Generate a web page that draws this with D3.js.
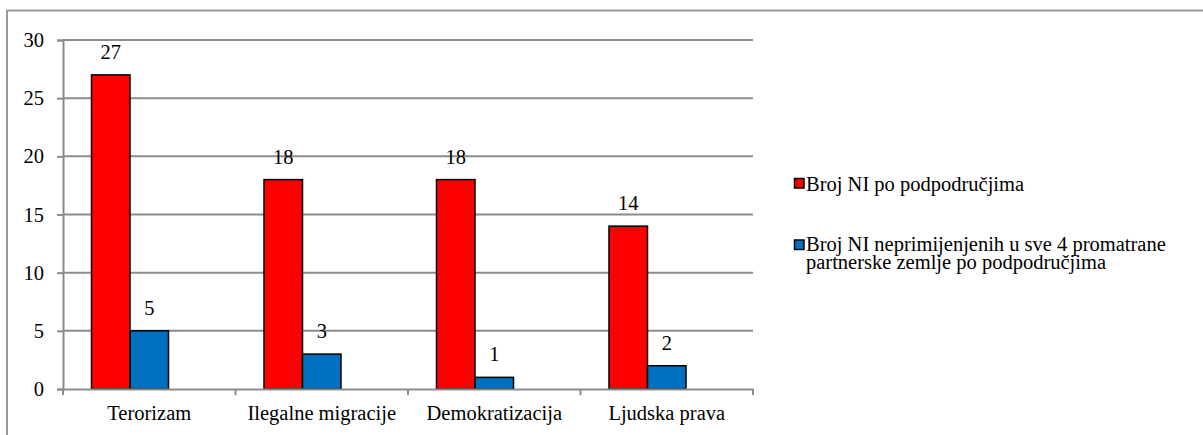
<!DOCTYPE html>
<html>
<head>
<meta charset="utf-8">
<script src="https://cdn.jsdelivr.net/npm/d3@7"></script>
<style>
  html, body { margin: 0; padding: 0; background: #fff; }
  svg { display: block; }
</style>
</head>
<body>
<svg id="chart" width="1203" height="435"></svg>
<script>
// Sub-areas and the two counted series
const categories = ["Terorizam", "Ilegalne migracije", "Demokratizacija", "Ljudska prava"];
const seriesNames = [
  "Broj NI po podpodručjima",
  "Broj NI neprimijenjenih u sve 4 promatrane partnerske zemlje po podpodručjima"
];
const legendLines = [
  ["Broj NI po podpodručjima"],
  ["Broj NI neprimijenjenih u sve 4 promatrane", "partnerske zemlje po podpodručjima"]
];
const totalCounts = [27, 18, 18, 14];
const unappliedCounts = [5, 3, 1, 2];
const seriesColors = ["#FF0000", "#0070C0"];
const yTicks = [0, 5, 10, 15, 20, 25, 30];

const svg = d3.select("#chart");
const W = 1203, H = 435;
const plot = { left: 63, right: 753, top: 40, bottom: 389 };
const fontSize = "20.5px";
const serif = '"Liberation Serif"';
const gridColor = "#8c8c8c";

function serifText(sel) {
  return sel.style("font-family", serif).style("font-size", fontSize).attr("fill", "#000");
}

// Frame around the chart (top and left edges visible)
svg.append("line").attr("x1", 7).attr("x2", W).attr("y1", 10.5).attr("y2", 10.5)
  .attr("stroke", "#999").attr("stroke-width", 2);
svg.append("line").attr("x1", 7).attr("x2", 7).attr("y1", 10).attr("y2", H)
  .attr("stroke", "#999").attr("stroke-width", 2);

const x0 = d3.scaleBand().domain(categories).range([plot.left, plot.right]).paddingInner(0).paddingOuter(0);
// three slots per category, the clustered layout leaves the third one empty
const x1 = d3.scaleBand().domain([0, 1, 2]).range([0, x0.bandwidth()]).paddingInner(0).paddingOuter(0.74);
const y = d3.scaleLinear().domain([0, 30]).range([plot.bottom, plot.top]);

// Gridlines
svg.append("g").selectAll("line").data(yTicks.filter(d => d > 0)).join("line")
  .attr("x1", plot.left).attr("x2", plot.right)
  .attr("y1", d => y(d)).attr("y2", d => y(d))
  .attr("stroke", gridColor).attr("stroke-width", 2);

// Y axis
const yAxis = svg.append("g").attr("transform", `translate(${plot.left},0)`)
  .call(d3.axisLeft(y).tickValues(yTicks).tickSize(6).tickPadding(13));
yAxis.select(".domain").attr("stroke", gridColor).attr("stroke-width", 2);
yAxis.selectAll(".tick line").attr("stroke", gridColor).attr("stroke-width", 2);
serifText(yAxis.selectAll(".tick text"));

// Bars with value labels
const series = [totalCounts, unappliedCounts];
series.forEach((vals, si) => {
  const g = svg.append("g");
  g.selectAll("rect").data(categories).join("rect")
    .attr("x", c => x0(c) + x1(si))
    .attr("y", (c, i) => y(vals[i]))
    .attr("width", x1.bandwidth())
    .attr("height", (c, i) => y(0) - y(vals[i]))
    .attr("fill", seriesColors[si])
    .attr("stroke", "#000").attr("stroke-width", 1.5);
  serifText(g.selectAll("text").data(categories).join("text"))
    .attr("x", c => x0(c) + x1(si) + x1.bandwidth() / 2)
    .attr("y", (c, i) => y(vals[i]) - 16)
    .attr("text-anchor", "middle")
    .text((c, i) => vals[i]);
});

// X axis
const xAxis = svg.append("g").attr("transform", `translate(0,${plot.bottom})`)
  .call(d3.axisBottom(x0).tickSize(0).tickPadding(16));
xAxis.select(".domain").attr("stroke", gridColor).attr("stroke-width", 2);
serifText(xAxis.selectAll(".tick text"));
// category boundary tick marks
const bounds = categories.map(c => x0(c)).concat([plot.right]);
svg.append("g").selectAll("line").data(bounds).join("line")
  .attr("x1", d => d).attr("x2", d => d)
  .attr("y1", plot.bottom).attr("y2", plot.bottom + 6)
  .attr("stroke", gridColor).attr("stroke-width", 2);

// Legend
const legend = svg.append("g");
const legendPos = [{ box: 178.5, base: 191 }, { box: 240, base: 251 }];
seriesNames.forEach((name, i) => {
  legend.append("rect")
    .attr("x", 794.5).attr("y", legendPos[i].box).attr("width", 9.5).attr("height", 9.5)
    .attr("fill", seriesColors[i]).attr("stroke", "#000").attr("stroke-width", 1.5);
  const t = serifText(legend.append("text").attr("x", 806).attr("y", legendPos[i].base));
  legendLines[i].forEach((ln, k) => {
    t.append("tspan").attr("x", 806).attr("dy", k === 0 ? 0 : 18).text(ln);
  });
});
</script>
</body>
</html>
